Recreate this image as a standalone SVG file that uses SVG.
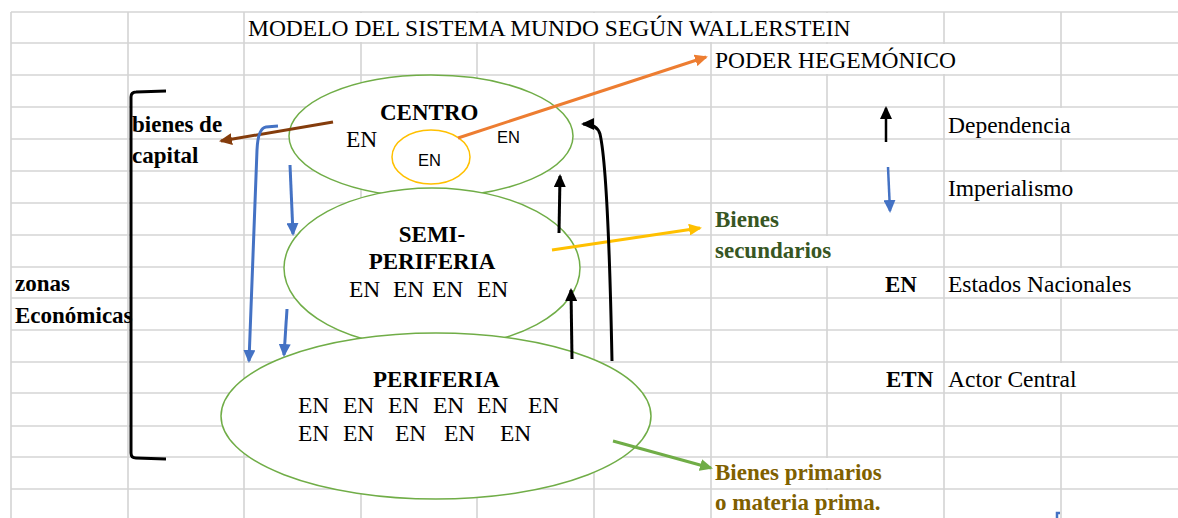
<svg xmlns="http://www.w3.org/2000/svg" width="1178" height="518" viewBox="0 0 1178 518">
<style>
.grid line{stroke:#D4D4D4;stroke-width:1.6}
.cover{fill:#fff}
.ser{font-family:"Liberation Serif","Times New Roman",serif;font-size:23.5px;fill:#000}
.bold{font-family:"Liberation Serif","Times New Roman",serif;font-size:23px;font-weight:bold;fill:#000}
.sans{font-family:"Liberation Sans",Arial,sans-serif;font-size:16.5px;fill:#000}
.ell{fill:#fff;stroke:#70AD47;stroke-width:1.5}
.conn{fill:none;stroke-width:3}
</style>
<defs>
<marker id="hBlack" markerUnits="userSpaceOnUse" markerWidth="13" markerHeight="12" refX="11" refY="6" orient="auto"><path d="M0,0 L13,6 L0,12 z" fill="#000"/></marker>
<marker id="hBlue" markerUnits="userSpaceOnUse" markerWidth="13" markerHeight="12" refX="11" refY="6" orient="auto"><path d="M0,0 L13,6 L0,12 z" fill="#4472C4"/></marker>
<marker id="hOrange" markerUnits="userSpaceOnUse" markerWidth="13" markerHeight="12" refX="11" refY="6" orient="auto"><path d="M0,0 L13,6 L0,12 z" fill="#ED7D31"/></marker>
<marker id="hYellow" markerUnits="userSpaceOnUse" markerWidth="13" markerHeight="12" refX="11" refY="6" orient="auto"><path d="M0,0 L13,6 L0,12 z" fill="#FFC000"/></marker>
<marker id="hGreen" markerUnits="userSpaceOnUse" markerWidth="13" markerHeight="12" refX="11" refY="6" orient="auto"><path d="M0,0 L13,6 L0,12 z" fill="#70AD47"/></marker>
<marker id="hBrown" markerUnits="userSpaceOnUse" markerWidth="13" markerHeight="12" refX="11" refY="6" orient="auto"><path d="M0,0 L13,6 L0,12 z" fill="#843C0C"/></marker>
</defs>
<rect width="1178" height="518" fill="#fff"/>
<g id="grid" class="grid">
<line x1="11" y1="12" x2="11" y2="518"/><line x1="128" y1="12" x2="128" y2="518"/><line x1="244" y1="12" x2="244" y2="518"/><line x1="361" y1="12" x2="361" y2="518"/><line x1="477" y1="12" x2="477" y2="518"/><line x1="594" y1="12" x2="594" y2="518"/><line x1="711" y1="12" x2="711" y2="518"/><line x1="827" y1="12" x2="827" y2="518"/><line x1="944" y1="12" x2="944" y2="518"/><line x1="1061" y1="12" x2="1061" y2="518"/>
<line x1="11" y1="12" x2="1178" y2="12"/><line x1="11" y1="43" x2="1178" y2="43"/><line x1="11" y1="75" x2="1178" y2="75"/><line x1="11" y1="107" x2="1178" y2="107"/><line x1="11" y1="139" x2="1178" y2="139"/><line x1="11" y1="171" x2="1178" y2="171"/><line x1="11" y1="203" x2="1178" y2="203"/><line x1="11" y1="235" x2="1178" y2="235"/><line x1="11" y1="267" x2="1178" y2="267"/><line x1="11" y1="298" x2="1178" y2="298"/><line x1="11" y1="330" x2="1178" y2="330"/><line x1="11" y1="362" x2="1178" y2="362"/><line x1="11" y1="393" x2="1178" y2="393"/><line x1="11" y1="426" x2="1178" y2="426"/><line x1="11" y1="457" x2="1178" y2="457"/><line x1="11" y1="489" x2="1178" y2="489"/>
<g class="cover">
<rect x="246" y="13" width="696" height="29"/>
<rect x="713" y="44" width="346" height="30"/>
<rect x="1059" y="108" width="5" height="30"/>
<rect x="1059" y="172" width="5" height="30"/>
<rect x="825" y="236" width="5" height="30"/>
<rect x="1059" y="268" width="5" height="29"/>
<rect x="1059" y="363" width="5" height="29"/>
<rect x="825" y="458" width="5" height="30"/>
<rect x="825" y="490" width="5" height="28"/>
</g>
</g>
<g id="titulo"><text class="ser" x="248" y="36">MODELO DEL SISTEMA MUNDO SEGÚN WALLERSTEIN</text></g>
<g id="poder-hegemonico"><text class="ser" x="715" y="68">PODER HEGEMÓNICO</text></g>
<g id="centro">
<ellipse class="ell" cx="431" cy="136" rx="142" ry="61"/>
<text class="bold" x="380" y="120">CENTRO</text>
<text class="ser" x="346" y="147">EN</text>
<text class="sans" x="497" y="143">EN</text>
</g>
<g id="centro-en">
<ellipse cx="431" cy="157" rx="39" ry="27" fill="#fff" stroke="#FFC000" stroke-width="1.5"/>
<text class="sans" x="418" y="166">EN</text>
</g>
<g id="semiperiferia">
<ellipse class="ell" cx="432" cy="268" rx="148" ry="80"/>
<text class="bold" x="432" y="242" text-anchor="middle">SEMI-</text>
<text class="bold" x="432" y="269" text-anchor="middle">PERIFERIA</text>
<text class="ser" x="349" y="297">EN</text><text class="ser" x="393" y="297">EN</text><text class="ser" x="432" y="297">EN</text><text class="ser" x="477" y="297">EN</text>
</g>
<g id="periferia">
<ellipse class="ell" cx="436" cy="416" rx="215" ry="83"/>
<text class="bold" x="373" y="387">PERIFERIA</text>
<text class="ser" x="298" y="413">EN</text><text class="ser" x="343" y="413">EN</text><text class="ser" x="388" y="413">EN</text><text class="ser" x="433" y="413">EN</text><text class="ser" x="477" y="413">EN</text><text class="ser" x="528" y="413">EN</text>
<text class="ser" x="298" y="441">EN</text><text class="ser" x="343" y="441">EN</text><text class="ser" x="395" y="441">EN</text><text class="ser" x="444" y="441">EN</text><text class="ser" x="500" y="441">EN</text>
</g>
<g id="bienes-capital"><text class="bold" x="132" y="132">bienes de</text><text class="bold" x="132" y="163">capital</text></g>
<g id="zonas-economicas">
<path d="M166 91 L136 92 Q131 92 131 97 L131 453 Q131 458 136 458 L166 459" fill="none" stroke="#000" stroke-width="3"/>
<text class="bold" x="15" y="291">zonas</text><text class="bold" x="15" y="323">Económicas</text>
</g>
<g id="bienes-secundarios"><text class="bold" x="715" y="227" fill="#375623" style="fill:#375623">Bienes</text><text class="bold" x="715" y="258" style="fill:#375623">secundarios</text></g>
<g id="bienes-primarios"><text class="bold" x="715" y="480" style="fill:#7F6000">Bienes primarios</text><text class="bold" x="715" y="510" style="fill:#7F6000">o materia prima.</text></g>
<g id="legend">
<line x1="886" y1="142" x2="886" y2="108" stroke="#000" stroke-width="2.5" marker-end="url(#hBlack)"/>
<text class="ser" x="948" y="133">Dependencia</text>
<line x1="888" y1="167" x2="890" y2="211" stroke="#4472C4" stroke-width="2.5" marker-end="url(#hBlue)"/>
<text class="ser" x="948" y="196">Imperialismo</text>
<text class="bold" x="885" y="292">EN</text><text class="ser" x="948" y="292">Estados Nacionales</text>
<text class="bold" x="886" y="387">ETN</text><text class="ser" x="948" y="387">Actor Central</text>
<path d="M1057 518 L1057 513 L1060 513" fill="none" stroke="#4472C4" stroke-width="2.5"/>
</g>
<g id="connectors">
<line class="conn" x1="333" y1="122" x2="221" y2="141" stroke="#843C0C" marker-end="url(#hBrown)"/>
<line class="conn" x1="458" y1="138" x2="706" y2="57" stroke="#ED7D31" marker-end="url(#hOrange)"/>
<line class="conn" x1="552" y1="250" x2="700" y2="228" stroke="#FFC000" marker-end="url(#hYellow)"/>
<line class="conn" x1="613" y1="441" x2="711" y2="468" stroke="#70AD47" marker-end="url(#hGreen)"/>
<line class="conn" x1="559" y1="233" x2="560" y2="176" stroke="#000" marker-end="url(#hBlack)"/>
<line class="conn" x1="572" y1="359" x2="571" y2="290" stroke="#000" marker-end="url(#hBlack)"/>
<path class="conn" d="M612 361 C610 260 606 160 600 134 Q597 124 583 124" stroke="#000" marker-end="url(#hBlack)"/>
<path class="conn" d="M278 126 L266 127 Q258 128 257 150 L249 361" stroke="#4472C4" stroke-width="2.5" marker-end="url(#hBlue)"/>
<line class="conn" x1="290" y1="165" x2="293" y2="234" stroke="#4472C4" stroke-width="2.5" marker-end="url(#hBlue)"/>
<line class="conn" x1="287" y1="309" x2="284" y2="355" stroke="#4472C4" stroke-width="2.5" marker-end="url(#hBlue)"/>
</g>
</svg>
